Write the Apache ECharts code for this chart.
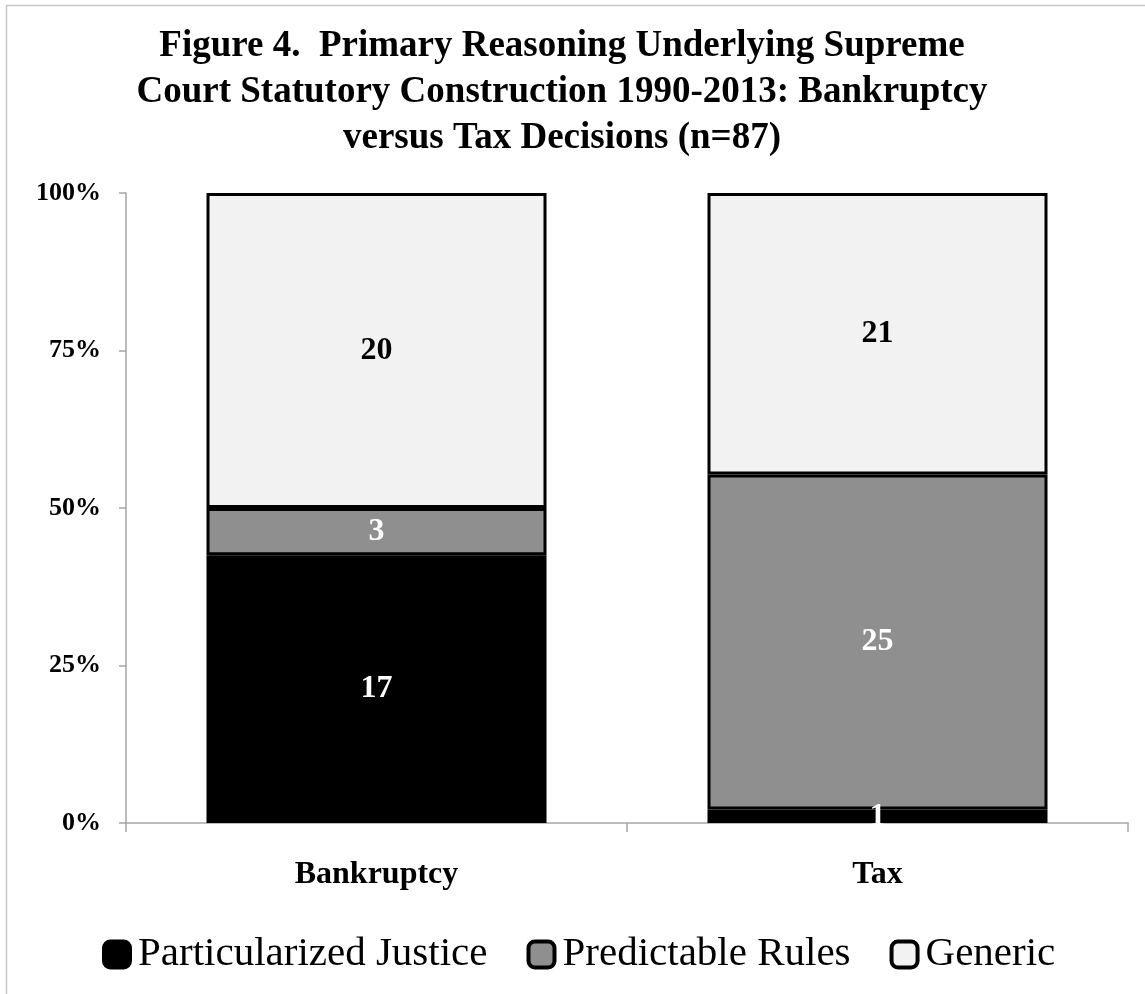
<!DOCTYPE html>
<html>
<head>
<meta charset="utf-8">
<script src="https://cdn.jsdelivr.net/npm/echarts@6/dist/echarts.min.js"></script>
<style>
  html, body { margin: 0; padding: 0; background: #fff; }
  #chart { width: 1145px; height: 994px; }
</style>
</head>
<body>
<div id="chart"></div>
<script>
// Case counts per court decision type, one array per reasoning category
const categories = ['Bankruptcy', 'Tax'];
const seriesNames = ['Particularized Justice', 'Predictable Rules', 'Generic'];
const particularized = [17, 1];
const predictable = [3, 25];
const generic = [20, 21];
const yTickLabels = ['0%', '25%', '50%', '75%', '100%'];

const counts = [particularized, predictable, generic];
const totals = categories.map((_, i) => counts.reduce((s, arr) => s + arr[i], 0));

const fills = ['#000000', '#8f8f8f', '#f2f2f2'];
const labelColors = ['#ffffff', '#ffffff', '#000000'];
const serif = '"Liberation Serif", "Times New Roman", serif';

// Each segment is its share of the column total; the label shows the raw count
const series = seriesNames.map((name, k) => ({
  name: name,
  type: 'bar',
  stack: 'share',
  barWidth: 340,
  data: counts[k].map((c, i) => ({ value: c / totals[i] * 100, count: c })),
  itemStyle: { color: fills[k], borderColor: '#000', borderWidth: 3 },
  label: {
    show: true,
    position: 'inside',
    formatter: p => String(p.data.count),
    color: labelColors[k],
    fontFamily: serif,
    fontWeight: 'bold',
    fontSize: 32
  },
  emphasis: { disabled: true }
}));

const chart = echarts.init(document.getElementById('chart'), null, { renderer: 'canvas' });
chart.setOption({
  backgroundColor: '#ffffff',
  animation: false,
  title: {
    text: 'Figure 4.  Primary Reasoning Underlying Supreme\nCourt Statutory Construction 1990-2013: Bankruptcy\nversus Tax Decisions (n=87)',
    left: 557,
    top: 18,
    textAlign: 'center',
    textStyle: {
      fontFamily: serif,
      fontWeight: 'bold',
      fontSize: 37,
      lineHeight: 46,
      color: '#000'
    }
  },
  graphic: [{
    type: 'rect',
    shape: { x: 6.5, y: 5.5, width: 1160, height: 1010 },
    style: { fill: 'none', stroke: '#c8c8c8', lineWidth: 1.5 },
    silent: true
  }],
  legend: {
    bottom: 14,
    left: 97,
    itemWidth: 26,
    itemHeight: 26,
    itemGap: 39,
    icon: 'roundRect',
    itemStyle: { borderColor: '#000', borderWidth: 4 },
    textStyle: { fontFamily: serif, fontSize: 41, color: '#000', padding: [0, 0, 0, 3] },
    data: seriesNames
  },
  grid: { left: 126, right: 17, top: 193, bottom: 171, containLabel: false },
  xAxis: {
    type: 'category',
    data: categories,
    axisLine: { lineStyle: { color: '#a6a6a6', width: 1.5 } },
    axisTick: { show: true, length: 9, lineStyle: { color: '#a6a6a6', width: 1.5 } },
    axisLabel: {
      margin: 36,
      fontFamily: serif,
      fontWeight: 'bold',
      fontSize: 32,
      color: '#000'
    }
  },
  yAxis: {
    type: 'value',
    min: 0,
    max: 100,
    interval: 25,
    axisLine: { show: true, lineStyle: { color: '#a6a6a6', width: 1.5 } },
    axisTick: { show: true, length: 7, lineStyle: { color: '#a6a6a6', width: 1.5 } },
    splitLine: { show: false },
    axisLabel: {
      margin: 25,
      formatter: v => yTickLabels[Math.round(v / 25)],
      fontFamily: serif,
      fontWeight: 'bold',
      fontSize: 26,
      color: '#000'
    }
  },
  series: series
});
</script>
</body>
</html>
